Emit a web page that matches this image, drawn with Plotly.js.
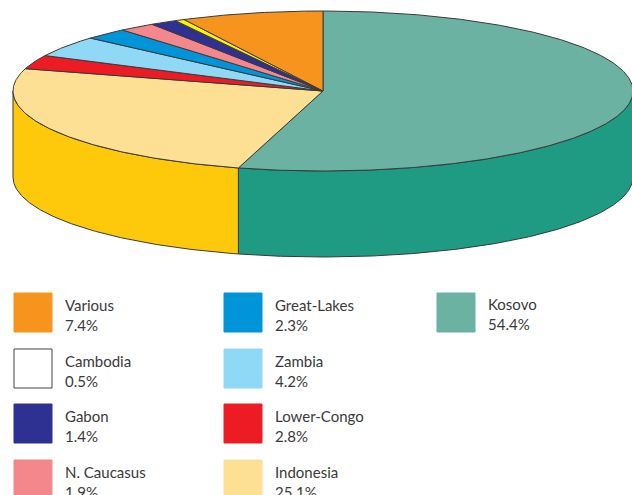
<!DOCTYPE html>
<html><head><meta charset="utf-8">
<script src="https://cdn.plot.ly/plotly-3.0.1.min.js"></script>
<style>html,body{margin:0;padding:0;background:#fff}#chart{width:632px;height:495px}</style>
</head><body><div id="chart"></div>
<script>
// Data (clockwise from 12 o'clock)
const categories = ['Kosovo','Indonesia','Lower-Congo','Zambia','Great-Lakes','N. Caucasus','Gabon','Cambodia','Various'];
const values = [54.4, 25.1, 2.8, 4.2, 2.3, 1.9, 1.4, 0.5, 7.4];
const topColors = ['#6bb2a3','#fde094','#ed1c24','#8fd8f6','#0095d8','#f3878c','#2e3192','#fff200','#f7941d'];
const sideColors = ['#1e9b82','#ffc90b','#b8151b','#6bb3cf','#0073a8','#c96a6e','#22256f','#d4c800','#c8760f'];
const swatchColors = ['#6bb2a3','#fde094','#ed1c24','#8fd8f6','#0095d8','#f3878c','#2e3192','#ffffff','#f7941d'];

// Geometry (layout)
const W = 632, H = 495;
const cx = 323, cy = 91, rx = 310, ry = 80, depth = 86;
const edge = '#3a3a3a';

function pt(deg, dy) {
  const t = deg * Math.PI / 180;
  return [cx + rx * Math.sin(t), cy - ry * Math.cos(t) + (dy || 0)];
}
function arc(a0, a1, dy) {
  const n = Math.max(2, Math.ceil(Math.abs(a1 - a0) / 0.5));
  const out = [];
  for (let i = 0; i <= n; i++) out.push(pt(a0 + (a1 - a0) * i / n, dy));
  return out;
}

const total = values.reduce((a, b) => a + b, 0);
const traces = [];
let acc = 0;
const ranges = values.map(v => { const a0 = acc / total * 360; acc += v; return [a0, acc / total * 360]; });

// sides (front half: 90..270 deg)
ranges.forEach((r, i) => {
  const s0 = Math.max(r[0], 90), s1 = Math.min(r[1], 270);
  if (s1 <= s0) return;
  const top = arc(s0, s1, 0);
  const bot = arc(s1, s0, depth);
  const poly = top.concat(bot);
  poly.push(top[0]);
  traces.push({type:'scatter', mode:'lines', x: poly.map(p => p[0]), y: poly.map(p => p[1]),
    fill:'toself', fillcolor: sideColors[i], line:{color: edge, width: 1}, hoverinfo:'skip'});
});
// top slices
ranges.forEach((r, i) => {
  const poly = [[cx, cy]].concat(arc(r[0], r[1], 0));
  poly.push([cx, cy]);
  traces.push({type:'scatter', mode:'lines', x: poly.map(p => p[0]), y: poly.map(p => p[1]),
    fill:'toself', fillcolor: topColors[i], line:{color: edge, width: 1}, hoverinfo:'skip'});
});

// legend (reverse order, column-major, 4 rows)
const colX = [14, 224, 437], rowY = [293, 349, 404, 460];
const boxW = 38, boxH = 39;
const shapes = [], annotations = [];
const order = categories.map((_, i) => i).reverse();
const lf = {family:'Lato, "Open Sans", sans-serif', size:15, color:'#3a3a3a'};
order.forEach((idx, k) => {
  const c = Math.floor(k / 4), r = k % 4;
  const x0 = colX[c], y0 = rowY[r];
  const dy = (c === 2 ? -1.5 : 0);
  shapes.push({type:'rect', xref:'x', yref:'y', x0: x0, x1: x0 + boxW, y0: y0, y1: y0 + boxH,
    fillcolor: swatchColors[idx], line:{color: swatchColors[idx] === '#ffffff' ? '#444' : swatchColors[idx], width: 1}});
  annotations.push({xref:'x', yref:'y', x: x0 + 49, y: y0 + 22 + dy, xanchor:'left', yanchor:'middle', align:'left',
    showarrow:false, text: categories[idx] + '<br>' + values[idx].toFixed(1) + '%', font: lf});
});

Plotly.newPlot('chart', traces, {
  width: W, height: H, margin:{l:0, r:0, t:0, b:0},
  paper_bgcolor:'#fff', plot_bgcolor:'#fff', showlegend:false,
  xaxis:{range:[0, W], visible:false, fixedrange:true},
  yaxis:{range:[H, 0], visible:false, fixedrange:true},
  shapes: shapes, annotations: annotations
}, {staticPlot:true});
</script></body></html>
